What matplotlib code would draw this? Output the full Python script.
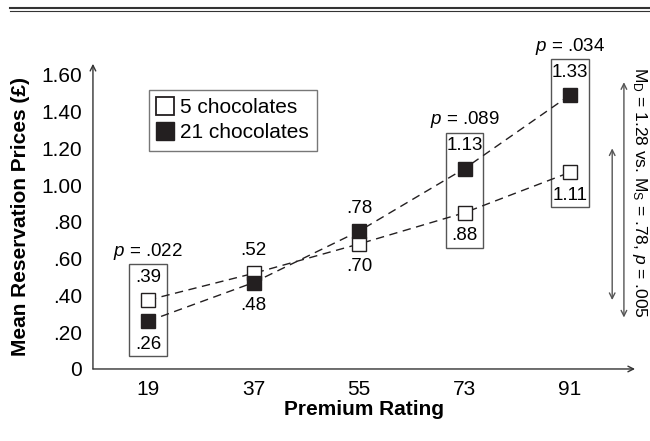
import matplotlib
matplotlib.use("Agg")
import matplotlib.pyplot as plt
from matplotlib.lines import Line2D
from matplotlib.patches import Rectangle

plt.rcParams['font.family'] = ['Liberation Sans', 'DejaVu Sans']
plt.rcParams['mathtext.fontset'] = 'custom'
plt.rcParams['mathtext.rm'] = 'Liberation Sans'
plt.rcParams['mathtext.it'] = 'Liberation Sans:italic'

# data
ratings = [19, 37, 55, 73, 91]
five_pos = [0.375, 0.52, 0.68, 0.85, 1.07]      # marker heights as drawn
twentyone_pos = [0.26, 0.47, 0.75, 1.09, 1.49]
five_labels = ['.39', '.52', '.70', '.88', '1.11']
twentyone_labels = ['.26', '.48', '.78', '1.13', '1.33']
boxed = [19, 73, 91]
p_labels = ['.022', '.089', '.034']
yticks = [0, 0.2, 0.4, 0.6, 0.8, 1.0, 1.2, 1.4, 1.6]
ytick_labels = ['0', '.20', '.40', '.60', '.80', '1.00', '1.20', '1.40', '1.60']

dark = '#231f20'
grey = '#555555'
fs = 13.5      # annotations
fs_big = 15    # ticks, axis labels, legend

fig = plt.figure(figsize=(6.5, 4.41), dpi=100)
ax = fig.add_axes([0.143, 0.1633, 0.834, 0.692])
ax.set_xlim(9.6, 102.1)
ax.set_ylim(0, 1.66)

for s in ax.spines.values():
    s.set_visible(False)
ax.annotate('', xy=(1.0, 0), xytext=(0, 0), xycoords='axes fraction',
            arrowprops=dict(arrowstyle='->', color='#333333', lw=1, shrinkA=0, shrinkB=0))
ax.annotate('', xy=(0, 1.0), xytext=(0, 0), xycoords='axes fraction',
            arrowprops=dict(arrowstyle='->', color='#333333', lw=1, shrinkA=0, shrinkB=0))

ax.set_xticks(ratings)
ax.set_xticklabels([str(r) for r in ratings], fontsize=fs_big)
ax.set_yticks(yticks)
ax.set_yticklabels(ytick_labels, fontsize=fs_big)
ax.tick_params(length=0)
ax.tick_params(axis='x', pad=8)
ax.tick_params(axis='y', pad=8)
ax.set_xlabel('Premium Rating', fontsize=fs_big, fontweight='bold', labelpad=1)
ax.set_ylabel('Mean Reservation Prices (£)', fontsize=fs_big, fontweight='bold', labelpad=8)

# series
ax.plot(ratings, five_pos, ls=(0, (6, 4)), color=dark, lw=1,
        marker='s', ms=9.5, mfc='white', mec=dark, mew=1, zorder=3)
ax.plot(ratings, twentyone_pos, ls=(0, (6, 4)), color=dark, lw=1,
        marker='s', ms=9.5, mfc=dark, mec=dark, mew=1, zorder=3)

# value labels: higher point labelled above, lower below
off = 0.125
for x, a, b, la, lb in zip(ratings, five_pos, twentyone_pos, five_labels, twentyone_labels):
    if a > b:
        ax.text(x, a + off, la, ha='center', va='center', fontsize=fs)
        ax.text(x, b - off, lb, ha='center', va='center', fontsize=fs)
    else:
        ax.text(x, b + off, lb, ha='center', va='center', fontsize=fs)
        ax.text(x, a - off, la, ha='center', va='center', fontsize=fs)

# boxes with p values
for x, p in zip(boxed, p_labels):
    i = ratings.index(x)
    lo = min(five_pos[i], twentyone_pos[i]) - 0.19
    hi = max(five_pos[i], twentyone_pos[i]) + 0.195
    ax.add_patch(Rectangle((x - 3.2, lo), 6.4, hi - lo, fill=False,
                           ec=grey, lw=1, clip_on=False, zorder=2))
    ax.text(x, hi + 0.07, '$p$ = ' + p, ha='center', va='center',
            fontsize=fs, clip_on=False)

# legend box
leg = ax.legend(handles=[
    Line2D([], [], ls='none', marker='s', ms=12.5, mfc='white', mec=dark, mew=1.3),
    Line2D([], [], ls='none', marker='s', ms=12.5, mfc=dark, mec=dark)],
    labels=['5 chocolates', '21 chocolates'], loc='upper left',
    bbox_to_anchor=(0.103, 0.915), borderaxespad=0, fontsize=fs_big, frameon=True,
    fancybox=False, handlelength=0.8, handletextpad=0.3, borderpad=0.4,
    labelspacing=0.3)
leg.get_frame().set_edgecolor(grey)
leg.get_frame().set_linewidth(1)

# range arrows on the right
ax.annotate('', xy=(98.2, 1.20), xytext=(98.2, 0.375),
            arrowprops=dict(arrowstyle='<->', color=grey, lw=1, shrinkA=0, shrinkB=0),
            annotation_clip=False)
ax.annotate('', xy=(100.2, 1.56), xytext=(100.2, 0.28),
            arrowprops=dict(arrowstyle='<->', color=grey, lw=1, shrinkA=0, shrinkB=0),
            annotation_clip=False)
fig.text(0.984, 0.563, r'M$_{\mathrm{D}}$ = 1.28 vs. M$_{\mathrm{S}}$ = .78, $p$ = .005',
         rotation=-90, ha='center', va='center', fontsize=12.5)

# double rule at the top
fig.add_artist(Line2D([0.015, 1.0], [0.982, 0.982], color='#333333', lw=1.5))
fig.add_artist(Line2D([0.015, 1.0], [0.974, 0.974], color='#333333', lw=0.8))

fig.savefig('out.png', dpi=100)
